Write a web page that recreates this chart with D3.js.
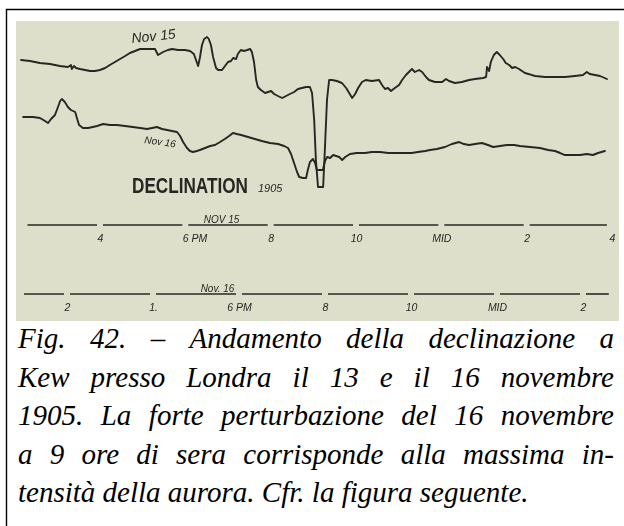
<!DOCTYPE html>
<html><head><meta charset="utf-8">
<script src="https://cdn.jsdelivr.net/npm/d3@7"></script>
<style>html,body{margin:0;padding:0;background:#fff;} svg{display:block;}</style>
</head><body>
<script>
// Kew magnetograph, declination traces. Hours of day (16 = 4 PM, 24 = midnight),
// deflection in chart units (larger = higher on the sheet).
const nov15Hours = [14.15,14.36,14.59,14.83,15.06,15.25,15.32,15.34,15.39,15.44,
  15.53,15.65,15.77,15.88,16.00,16.12,16.23,16.35,16.47,16.59,
  16.70,16.82,16.94,17.17,17.29,17.36,17.48,17.59,17.69,17.83,
  17.99,18.11,18.20,18.25,18.30,18.34,18.39,18.44,18.51,18.55,
  18.60,18.65,18.72,18.77,18.86,18.93,19.00,19.07,19.12,19.19,
  19.23,19.30,19.37,19.45,19.52,19.56,19.61,19.66,19.70,19.77,
  19.87,19.94,20.01,20.08,20.17,20.27,20.36,20.45,20.55,20.64,
  20.73,20.83,20.92,20.97,21.02,21.06,21.11,21.23,21.27,21.32,
  21.37,21.44,21.55,21.67,21.77,21.84,21.91,21.98,22.05,22.14,
  22.23,22.37,22.54,22.61,22.68,22.75,22.82,22.91,23.01,23.08,
  23.17,23.24,23.31,23.38,23.48,23.55,23.64,23.71,23.85,24.02,
  24.11,24.18,24.32,24.48,24.65,24.79,24.98,25.05,25.07,25.12,
  25.16,25.23,25.30,25.37,25.45,25.51,25.59,25.66,25.73,25.82,
  25.96,26.20,26.43,26.66,26.90,27.13,27.32,27.41,27.48,27.60,
  27.72,27.88];
const nov15Values = [70,69.5,68.5,68,67,66.5,67.5,65.5,67,66,
  65.5,65,64.5,64.5,65,66,67.5,69,70.5,72,
  73.5,74.5,75.5,75.5,75.5,72.5,74,75,75.5,75,
  75,74.5,73,70,67,71,77.5,80.5,81.5,80.5,
  77.5,71.5,66,65,65,67,69,69.5,71,70.5,
  73,75,74.5,75,75.5,74,69,60,56.5,55,
  53.5,54,54.5,53,52,51,52,53,54,55.5,
  56,56.5,56.5,53.5,40,20,6.5,6.5,25,50,
  60,60,59.5,58.5,56,53.5,51,53,56,59,
  60,59.5,60,57.5,55.5,56,54.5,56,57.5,60,
  62.5,64,65.5,64,65,64,61.5,60,59,59,
  60.5,59.5,58.5,59,60,60.5,61,61.5,66.5,64.5,
  69,72.5,74,72.5,70.5,68.5,67.5,66,66.5,65.5,
  63.5,62,61.5,61.5,61.5,62,62.5,64,63,62.5,
  62,60.5];

const nov16Hours = [12.98,13.21,13.37,13.49,13.56,13.63,13.72,13.79,13.84,13.88,
  13.95,14.02,14.09,14.19,14.23,14.28,14.37,14.49,14.60,14.70,
  14.84,15.00,15.16,15.35,15.53,15.70,15.86,15.98,16.09,16.21,
  16.33,16.44,16.56,16.63,16.70,16.79,16.86,16.93,17.02,17.09,
  17.21,17.33,17.44,17.56,17.67,17.77,17.86,17.95,18.05,18.21,
  18.37,18.53,18.72,18.91,19.05,19.14,19.21,19.28,19.35,19.40,
  19.49,19.56,19.60,19.65,19.72,19.77,19.81,19.95,20.00,20.05,
  20.12,20.19,20.26,20.33,20.40,20.47,20.58,20.74,20.93,21.09,
  21.28,21.47,21.65,21.86,22.02,22.16,22.33,22.44,22.60,22.79,
  22.95,23.12,23.23,23.35,23.49,23.65,23.79,23.91,24.07,24.23,
  24.40,24.53,24.77,25.00,25.19,25.35,25.47,25.58,25.74,25.93,
  26.09,26.23,26.35,26.51];
const nov16Values = [41.5,41.5,41,39.5,38.5,40.5,42.5,46.5,49.5,50.5,
  49,46.5,45,44,41,37.5,36,36,36.5,37,
  38,37.5,37.5,37,36.5,36,35.5,36,36.5,35.5,
  35,34.5,34,32,29,26,24.5,24,24.5,25,
  26,27,27.5,29,30.5,32,33.5,33,32.5,31.5,
  30.5,29.5,28.5,28,27,26,23,18.5,14,11.5,
  11,11,15,19,20.5,18.5,15,15,19.5,21.5,
  21,22.5,22,21.5,20,21.5,23,23.5,23.5,24,
  24,23.5,23.5,23.5,23.5,24,24.5,25,25.5,26.5,
  28,29,28,27.5,28,28.5,27.5,26.5,27,27.5,
  27.5,27,26.5,26,25,24.5,23.5,22.5,22.5,22.5,
  23,22.5,23.5,24.5];

const nov15Ticks = [16,18,20,22,24,26,28];
const nov15TickLabels = ["4","6 PM","8","10","MID","2","4"];
const nov16Ticks = [14,16,18,20,22,24,26];
const nov16TickLabels = ["2","1.","6 PM","8","10","MID","2"];

const captionLines = [
  "Fig. 42. – Andamento della declinazione a",
  "Kew presso Londra il 13 e il 16 novembre",
  "1905. La forte perturbazione del 16 novembre",
  "a 9 ore di sera corrisponde alla massima in-",
  "tensità della aurora. Cfr. la figura seguente."
];

const W = 624, H = 526;
const svg = d3.select("body").append("svg").attr("width", W).attr("height", H);
const hand = '"Liberation Sans", Arial, sans-serif';
const serif = '"Liberation Serif", "Times New Roman", serif';

// outer frame (left and top rules)
svg.append("path").attr("d", `M6.5,${H} V9.5 H${W}`)
  .attr("fill", "none").attr("stroke", "#000").attr("stroke-width", 1.4);

// paper of the magnetogram
const defs = svg.append("defs");
defs.append("filter").attr("id", "soft")
  .append("feGaussianBlur").attr("stdDeviation", 0.45);
svg.append("rect").attr("x", 16).attr("y", 21).attr("width", 603).attr("height", 300)
  .attr("fill", "#dedfca");

const sheet = svg.append("g").attr("filter", "url(#soft)");

const x15 = d3.scaleLinear().domain([16, 28]).range([100, 612]);
const x16 = d3.scaleLinear().domain([14, 26]).range([67, 583]);
const y = d3.scaleLinear().domain([0, 90]).range([200, 20]);

const ink = "#262624";

function label(sel, size, style, weight) {
  return sel.style("font-family", hand).style("font-size", size + "px")
    .style("font-style", style || "normal").style("font-weight", weight || "normal")
    .attr("fill", ink);
}

function trace(hours, values, xs) {
  const pts = hours.map((h, i) => [h, values[i]]);
  sheet.append("path").datum(pts)
    .attr("fill", "none").attr("stroke", ink).attr("stroke-width", 1.9)
    .attr("stroke-linejoin", "round").attr("stroke-linecap", "round")
    .attr("d", d3.line().x(d => xs(d[0])).y(d => y(d[1])));
}
trace(nov15Hours, nov15Values, x15);
trace(nov16Hours, nov16Values, x16);

// trace labels
label(sheet.append("text").attr("transform", "translate(132,43) rotate(-6)"), 14, "italic")
  .text("Nov 15");
label(sheet.append("text").attr("transform", "translate(144,143) rotate(8)"), 10, "italic")
  .text("Nov 16");
label(sheet.append("text").attr("transform", "translate(132,193) scale(0.78,1)"), 22, "normal", "bold")
  .text("DECLINATION");
label(sheet.append("text").attr("x", 258).attr("y", 192), 11, "italic").text("1905");

// time scales drawn as broken rules with hour labels under the gaps
function timeScale(xs, ticks, labels, start, end, ruleY, title, titleHour, gap, pmStart) {
  const bounds = [start, ...ticks.filter(t => t < end), end];
  const segs = d3.pairs(bounds);
  sheet.selectAll(null).data(segs).enter().append("line")
    .attr("x1", d => xs(d[0]) + (d[0] === start ? 0 : gap))
    .attr("x2", d => xs(d[1]) - (d[1] === end ? 0 : gap))
    .attr("y1", ruleY).attr("y2", ruleY)
    .attr("stroke", ink).attr("stroke-width", 1.6);
  const axis = d3.axisBottom(xs).tickValues(ticks)
    .tickFormat((d, i) => labels[i]).tickSize(0).tickPadding(10);
  const g = sheet.append("g").attr("transform", `translate(0,${ruleY})`).call(axis);
  g.select(".domain").remove();
  label(g.selectAll("text"), 10.5, "italic");
  if (pmStart) {
    g.selectAll("text").filter(d => labels[ticks.indexOf(d)] === "6 PM")
      .attr("text-anchor", "start").attr("dx", -3);
  }
  label(sheet.append("text").attr("x", xs(titleHour)).attr("y", ruleY - 2)
    .attr("text-anchor", "middle"), 10, "italic").text(title);
}
timeScale(x15, nov15Ticks, nov15TickLabels, 14.3, 27.88, 225, "NOV 15", 18.85, 3, true);
timeScale(x16, nov16Ticks, nov16TickLabels, 13.0, 26.6, 294, "Nov. 16", 17.5, 3, false);

// caption, justified except for the last line
const cap = svg.append("g");
const left = 18, right = 614, base0 = 348, lead = 38.5;
captionLines.forEach((line, li) => {
  const words = line.split(" ");
  const yb = base0 + li * lead;
  const nodes = words.map(w => cap.append("text").attr("y", yb)
    .style("font-family", serif).style("font-style", "italic").style("font-size", "29px")
    .attr("fill", "#000").text(w));
  const widths = nodes.map(n => n.node().getComputedTextLength());
  const total = d3.sum(widths);
  const last = li === captionLines.length - 1;
  const space = last ? 7.25 : (right - left - total) / (words.length - 1);
  let xPos = left;
  nodes.forEach((n, i) => { n.attr("x", xPos); xPos += widths[i] + space; });
});
</script>
</body></html>
